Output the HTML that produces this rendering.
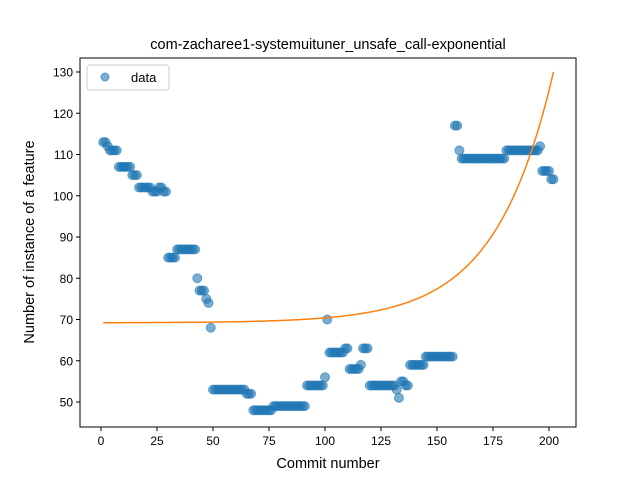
<!DOCTYPE html>
<html><head><meta charset="utf-8"><style>body{margin:0;background:#fff}svg{display:block;font-family:"Liberation Sans","DejaVu Sans",sans-serif}</style></head>
<body>
<svg id="chart" width="640" height="480">
<rect width="640" height="480" fill="#fff"/>
<text x="328" y="49" text-anchor="middle" font-size="14.5">com-zacharee1-systemuituner_unsafe_call-exponential</text>
<g id="plot"></g>
<rect x="80" y="58" width="496" height="369" fill="none" stroke="#000" stroke-width="1"/>
<text x="328" y="468" text-anchor="middle" font-size="14.5">Commit number</text>
<text transform="translate(34,242) rotate(-90)" text-anchor="middle" font-size="14.5">Number of instance of a feature</text>
<g>
<rect x="87" y="65" width="82" height="25" rx="3" fill="#fff" stroke="#ccc"/>
<circle cx="105" cy="77" r="4" fill="#1f77b4" fill-opacity="0.6" stroke="#1f77b4" stroke-opacity="0.6"/>
<text x="131" y="82" font-size="13">data</text>
</g>
</svg>
<script>
const runs = [[1,2,113],[3,3,112],[4,7,111],[8,13,107],[14,16,105],[17,22,102],[23,25,101],[26,27,102],[28,29,101],[30,33,85],[34,42,87],[43,43,80],[44,46,77],[47,47,75],[48,48,74],[49,49,68],[50,64,53],[65,67,52],[68,76,48],[77,91,49],[92,99,54],[100,100,56],[101,101,70],[102,108,62],[109,110,63],[111,115,58],[116,116,59],[117,119,63],[120,131,54],[132,132,53],[133,133,51],[134,135,55],[136,137,54],[138,144,59],[145,157,61],[158,159,117],[160,160,111],[161,180,109],[181,195,111],[196,196,112],[197,200,106],[201,202,104]];
const xTicks = [0,25,50,75,100,125,150,175,200];
const yTicks = [50,60,70,80,90,100,110,120,130];
const fitA = 69.2, fitB = 0.0255, fitC = 0.0385;
const commits = [], counts = [];
runs.forEach(r => { for (let i = r[0]; i <= r[1]; i++) { commits.push(i); counts.push(r[2]); } });
const sx = v => 101 + v * 2.24;
const sy = v => 402 - (v - 50) * 4.125;
const NS = "http://www.w3.org/2000/svg";
const g = document.getElementById('plot');
function mk(t, a) { const e = document.createElementNS(NS, t); for (const k in a) e.setAttribute(k, a[k]); g.appendChild(e); return e; }
xTicks.forEach(t => {
  const l = mk('line', {x1: sx(t), x2: sx(t), y1: 427, y2: 431, stroke: '#000'});
  
  
  const tx = mk('text', {x: sx(t), y: 445, 'text-anchor': 'middle', 'font-size': 12});
  tx.textContent = t;
  
  
});
yTicks.forEach(t => {
  const l = mk('line', {x1: 76, x2: 80, y1: sy(t), y2: sy(t), stroke: '#000'});
  
  
  const tx = mk('text', {x: 73, y: sy(t) + 4.5, 'text-anchor': 'end', 'font-size': 12});
  tx.textContent = t;
  
  
});
commits.forEach((c, i) => {
  const p = mk('circle', {cx: sx(c), cy: sy(counts[i]), r: 4.5, fill: '#1f77b4', 'fill-opacity': 0.6, stroke: '#1f77b4', 'stroke-opacity': 0.6});
  
  
});
let d = '';
for (let x = 1; x <= 202; x += 1) { const y = fitA + fitB * Math.exp(fitC * x); d += (x === 1 ? 'M' : 'L') + sx(x).toFixed(1) + ',' + sy(y).toFixed(1); }
const fl = mk('path', {d: d, fill: 'none', stroke: '#ff7f0e', 'stroke-width': 1.5});


</script>
</body></html>
